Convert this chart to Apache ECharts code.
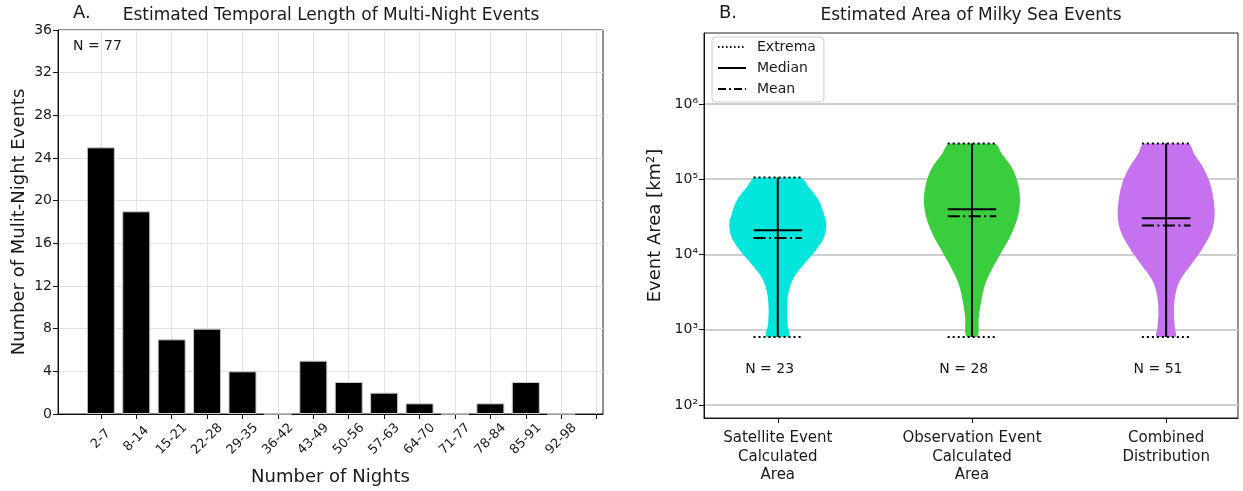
<!DOCTYPE html>
<html><head><meta charset="utf-8">
<script src="https://cdn.jsdelivr.net/npm/echarts@6/dist/echarts.min.js"></script>
<style>html,body{margin:0;padding:0;background:#fff}#c{width:1243px;height:491px}</style>
</head><body><div id="c"></div>
<script>
// ---------- Panel A data ----------
const nightCategories = ['2-7','8-14','15-21','22-28','29-35','36-42','43-49','50-56','57-63','64-70','71-77','78-84','85-91','92-98'];
const nightCounts = [25,19,7,8,4,0,5,3,2,1,0,1,3,0];
const nightTotalLabel = 'N = 77';

// ---------- Panel B data ----------
const groupLabels = ['Satellite Event\nCalculated\nArea','Observation Event\nCalculated\nArea','Combined\nDistribution'];
const groupN = [23, 28, 51];
const extremaMin = [800, 800, 800];
const extremaMax = [105000, 298000, 298000];
const medianArea = [21000, 40000, 30300];
const meanArea = [16600, 32200, 24300];
// violin outline: area value and relative half-width (1 = widest)
const satProfileArea = [105000, 78000, 51500, 34300, 25200, 16800, 11100, 7400, 4900, 3300, 1970, 1180, 800];
const satProfileWidth = [0.46, 0.64, 0.85, 0.95, 1.0, 0.95, 0.77, 0.54, 0.33, 0.23, 0.19, 0.20, 0.23];
const obsProfileArea = [298000, 215000, 143000, 86000, 51500, 31000, 18600, 11100, 6700, 4000, 2400, 1450, 800];
const obsProfileWidth = [0.46, 0.62, 0.82, 0.95, 0.99, 0.94, 0.81, 0.62, 0.43, 0.27, 0.19, 0.14, 0.11];
const combProfileArea = [298000, 215000, 143000, 86000, 51500, 34300, 20600, 12400, 7400, 4460, 2680, 1610, 1070, 800];
const combProfileWidth = [0.45, 0.58, 0.76, 0.91, 0.98, 1.0, 0.94, 0.76, 0.52, 0.28, 0.18, 0.16, 0.18, 0.19];
const areaTicks = [100, 1000, 10000, 100000, 1000000];
const legendNames = ['Extrema', 'Median', 'Mean'];

const groupColors = ['#02E5DC', '#3ACD3E', '#C571F0'];
const profiles = [
  {a: satProfileArea, w: satProfileWidth},
  {a: obsProfileArea, w: obsProfileWidth},
  {a: combProfileArea, w: combProfileWidth}
];

const FONT = 'DejaVu Sans';
const TXT = '#1a1a1a';
const sup = {'0':'⁰','1':'¹','2':'²','3':'³','4':'⁴','5':'⁵','6':'⁶','7':'⁷','8':'⁸','9':'⁹'};

const chart = echarts.init(document.getElementById('c'), null, {renderer: 'canvas'});

const VIOLIN_HALF = 0.25, STAT_HALF = 0.125;
const dotted = [2, 3], dashDot = [12, 3.5, 2, 3.5];

function renderViolin(params, api) {
  const pos = api.value(0);
  const i = api.value(1);
  const p = profiles[i];
  const right = [], left = [];
  for (let k = 0; k < p.a.length; k++) {
    right.push(api.coord([pos + p.w[k] * VIOLIN_HALF, p.a[k]]));
  }
  for (let k = p.a.length - 1; k >= 0; k--) {
    left.push(api.coord([pos - p.w[k] * VIOLIN_HALF, p.a[k]]));
  }
  const pts = right.concat(left);
  let minX = Infinity, minY = Infinity, maxX = -Infinity, maxY = -Infinity;
  pts.forEach(q => { minX = Math.min(minX, q[0]); maxX = Math.max(maxX, q[0]); minY = Math.min(minY, q[1]); maxY = Math.max(maxY, q[1]); });
  const hline = (val, dash) => {
    const a = api.coord([pos - STAT_HALF, val]), b = api.coord([pos + STAT_HALF, val]);
    return {type: 'line', shape: {x1: a[0], y1: a[1], x2: b[0], y2: b[1]},
      style: {stroke: '#000', lineWidth: 2, lineDash: dash || null}};
  };
  const top = api.coord([pos, extremaMax[i]]), bot = api.coord([pos, extremaMin[i]]);
  const nPos = api.coord([pos - 0.168, 300]);
  return {
    type: 'group',
    children: [
      {type: 'polygon', shape: {points: pts, smooth: 0.35, smoothConstraint: [[minX, minY], [maxX, maxY]]},
        style: {fill: groupColors[i], stroke: null}},
      {type: 'line', shape: {x1: top[0], y1: top[1], x2: bot[0], y2: bot[1]}, style: {stroke: '#000', lineWidth: 2}},
      hline(extremaMax[i], dotted),
      hline(extremaMin[i], dotted),
      hline(medianArea[i]),
      hline(meanArea[i], dashDot),
      {type: 'text', style: {text: 'N = ' + groupN[i], x: nPos[0], y: nPos[1], textAlign: 'left', textVerticalAlign: 'middle',
        fill: TXT, font: '14px "' + FONT + '"'}}
    ]
  };
}

const xTickPos0 = nightCategories.map((_, i) => i).concat([nightCategories.length]);
const xLabelPos0 = nightCategories.map((_, i) => i);
const xPos1 = groupLabels.map((_, i) => i + 1);

const option = {
  animation: false,
  backgroundColor: '#fff',
  textStyle: {fontFamily: FONT, color: TXT},
  graphic: [
    {type: 'text', left: 73, top: 4, style: {text: 'A.', font: '18px "' + FONT + '"', fill: TXT}},
    {type: 'text', x: 331, y: 16, style: {text: 'Estimated Temporal Length of Multi-Night Events', font: '17px "' + FONT + '"', fill: TXT, textAlign: 'center', textVerticalAlign: 'middle'}},
    {type: 'text', left: 719, top: 4, style: {text: 'B.', font: '18px "' + FONT + '"', fill: TXT}},
    {type: 'text', x: 971, y: 16, style: {text: 'Estimated Area of Milky Sea Events', font: '17px "' + FONT + '"', fill: TXT, textAlign: 'center', textVerticalAlign: 'middle'}},
    {type: 'text', left: 73, top: 39, style: {text: nightTotalLabel, font: '14px "' + FONT + '"', fill: TXT}}
  ],
  legend: {
    data: legendNames,
    orient: 'vertical', left: 712, top: 37,
    itemWidth: 28, itemHeight: 14, itemGap: 7,
    padding: [3, 8, 6, 5],
    borderColor: '#cccccc', borderWidth: 1, borderRadius: 4, backgroundColor: '#fff',
    itemStyle: {opacity: 0},
    textStyle: {fontSize: 14, fontFamily: FONT, color: TXT, padding: [0, 0, 0, 6]},
    selectedMode: false
  },
  grid: [
    {left: 58, top: 30, width: 545, height: 388, show: true, borderColor: '#222', borderWidth: 1, backgroundColor: 'transparent'},
    {left: 704, top: 33, width: 534, height: 385, show: true, borderColor: '#222', borderWidth: 1, backgroundColor: 'transparent'}
  ],
  xAxis: [
    {type: 'value', gridIndex: 0, min: -1.21, max: 14.18,
      axisLine: {show: true, onZero: false, lineStyle: {color: '#111'}},
      axisTick: {show: true, customValues: xTickPos0, length: 5, lineStyle: {color: '#111'}},
      axisLabel: {customValues: xLabelPos0, formatter: v => nightCategories[v] || '', rotate: 45, align: 'center', verticalAlign: 'middle',
        margin: 25, fontSize: 13, color: TXT, fontFamily: FONT},
      splitLine: {show: true, lineStyle: {color: '#e3e3e3', width: 1}},
      name: 'Number of Nights', nameLocation: 'middle', nameGap: 54,
      nameTextStyle: {fontSize: 18, color: TXT, fontFamily: FONT}},
    {type: 'value', gridIndex: 1, min: 0.62, max: 3.37,
      axisLine: {show: true, onZero: false, lineStyle: {color: '#111'}},
      axisTick: {show: true, customValues: xPos1, length: 5, lineStyle: {color: '#111'}},
      axisLabel: {customValues: xPos1, formatter: v => groupLabels[v - 1] || '', margin: 11, fontSize: 15, lineHeight: 18.5, color: TXT, fontFamily: FONT},
      splitLine: {show: false}}
  ],
  yAxis: [
    {type: 'value', gridIndex: 0, min: 0, max: 36, interval: 4,
      axisLine: {show: true, onZero: false, lineStyle: {color: '#111'}},
      axisTick: {show: true, length: 5, lineStyle: {color: '#111'}},
      axisLabel: {fontSize: 14, color: TXT, margin: 6, fontFamily: FONT},
      splitLine: {show: true, lineStyle: {color: '#e3e3e3', width: 1}},
      name: 'Number of Mulit-Night Events', nameLocation: 'middle', nameGap: 30,
      nameTextStyle: {fontSize: 18, color: TXT, fontFamily: FONT}},
    {type: 'log', logBase: 10, gridIndex: 1, min: 67.1, max: 8770000,
      axisLine: {show: true, onZero: false, lineStyle: {color: '#111'}},
      axisTick: {show: true, customValues: areaTicks, length: 5, lineStyle: {color: '#111'}},
      axisLabel: {customValues: areaTicks, fontSize: 14, color: TXT, margin: 6, fontFamily: FONT,
        formatter: v => '10' + String(Math.round(Math.log10(v))).split('').map(c => sup[c]).join('')},
      splitLine: {show: true, lineStyle: {color: '#cfcfcf', width: 2}},
      name: 'Event Area [km²]', nameLocation: 'middle', nameGap: 40,
      nameTextStyle: {fontSize: 18, color: TXT, fontFamily: FONT}}
  ],
  series: [
    {type: 'bar', xAxisIndex: 0, yAxisIndex: 0, barWidth: 28,
      data: nightCounts.map((c, i) => [i, c]),
      itemStyle: {color: '#000', borderColor: '#c8c8c8', borderWidth: 1}},
    {type: 'custom', xAxisIndex: 1, yAxisIndex: 1, renderItem: renderViolin,
      data: groupN.map((n, i) => [i + 1, i]), clip: false, z: 3},
    {type: 'line', name: 'Extrema', xAxisIndex: 1, yAxisIndex: 1, data: [], symbol: 'none', color: '#000',
      itemStyle: {color: '#000'}, lineStyle: {color: '#000', width: 1.5, type: [1.5, 2.5]}},
    {type: 'line', name: 'Median', xAxisIndex: 1, yAxisIndex: 1, data: [], symbol: 'none', color: '#000',
      itemStyle: {color: '#000'}, lineStyle: {color: '#000', width: 1.5, type: 'solid'}},
    {type: 'line', name: 'Mean', xAxisIndex: 1, yAxisIndex: 1, data: [], symbol: 'none', color: '#000',
      itemStyle: {color: '#000'}, lineStyle: {color: '#000', width: 1.5, type: [8, 3, 2, 3]}}
  ]
};
chart.setOption(option);
</script></body></html>
